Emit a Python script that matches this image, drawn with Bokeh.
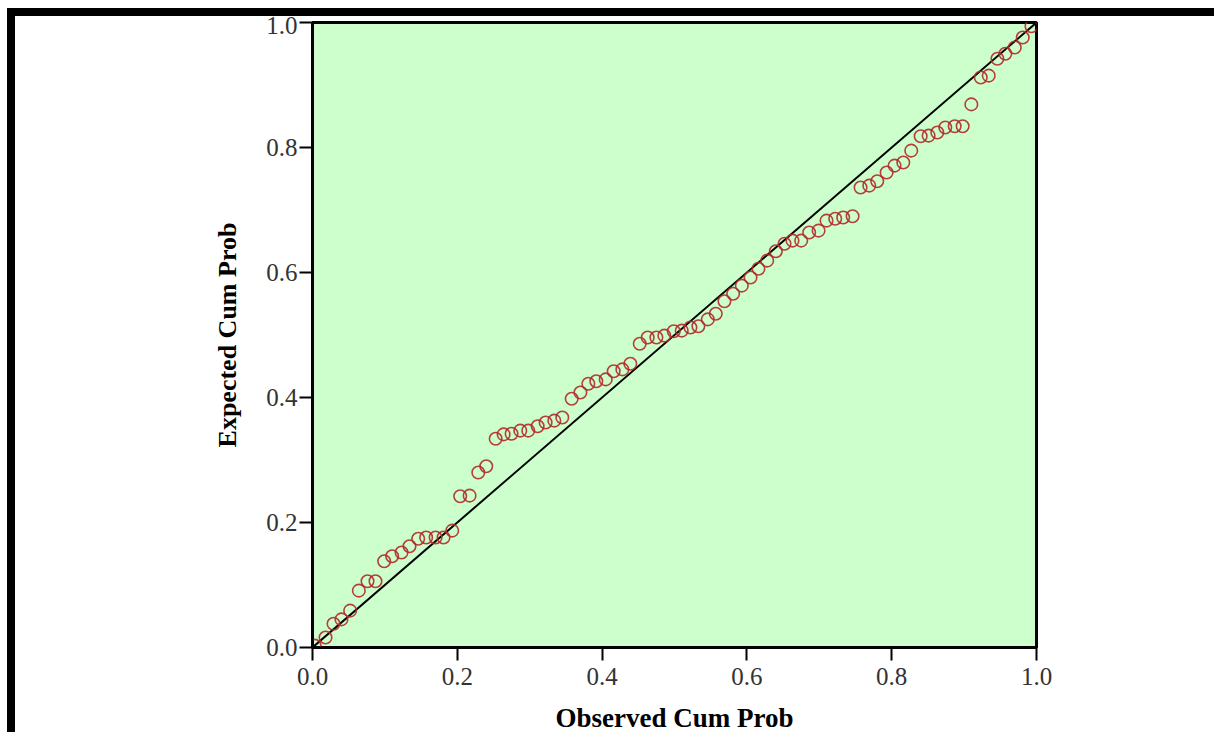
from bokeh.plotting import figure
from bokeh.models import Range1d, PrintfTickFormatter
from bokeh.embed import file_html
from bokeh.resources import INLINE

# Observed cumulative probability (x) and expected cumulative probability (y)
observed = [0.003, 0.018, 0.029, 0.040, 0.052, 0.064, 0.076, 0.087, 0.099, 0.110,
            0.123, 0.134, 0.146, 0.157, 0.170, 0.181, 0.193, 0.204, 0.217, 0.229,
            0.240, 0.253, 0.264, 0.275, 0.287, 0.298, 0.311, 0.322, 0.334, 0.345,
            0.358, 0.370, 0.381, 0.392, 0.405, 0.416, 0.428, 0.439, 0.452, 0.463,
            0.475, 0.486, 0.499, 0.510, 0.522, 0.533, 0.546, 0.557, 0.569, 0.581,
            0.593, 0.605, 0.616, 0.628, 0.640, 0.652, 0.663, 0.675, 0.686, 0.699,
            0.710, 0.722, 0.733, 0.746, 0.757, 0.769, 0.780, 0.793, 0.804, 0.816,
            0.827, 0.840, 0.851, 0.863, 0.874, 0.887, 0.898, 0.910, 0.923, 0.934,
            0.946, 0.957, 0.970, 0.981, 0.993]
expected = [0.003, 0.016, 0.038, 0.045, 0.059, 0.091, 0.106, 0.106, 0.138, 0.146,
            0.152, 0.162, 0.174, 0.176, 0.176, 0.176, 0.187, 0.242, 0.243, 0.280,
            0.290, 0.334, 0.341, 0.342, 0.347, 0.347, 0.354, 0.360, 0.363, 0.368,
            0.398, 0.408, 0.422, 0.426, 0.429, 0.442, 0.445, 0.454, 0.486, 0.496,
            0.496, 0.499, 0.506, 0.507, 0.512, 0.514, 0.525, 0.534, 0.554, 0.566,
            0.579, 0.592, 0.606, 0.619, 0.634, 0.646, 0.651, 0.651, 0.664, 0.667,
            0.683, 0.686, 0.688, 0.690, 0.736, 0.739, 0.746, 0.760, 0.771, 0.776,
            0.795, 0.818, 0.819, 0.824, 0.832, 0.834, 0.834, 0.869, 0.912, 0.915,
            0.942, 0.950, 0.960, 0.976, 0.994]
diag_x = [0.0, 1.0]
diag_y = [0.0, 1.0]
tick_values = [0.0, 0.2, 0.4, 0.6, 0.8, 1.0]
x_title = "Observed Cum Prob"
y_title = "Expected Cum Prob"

SERIF = "Liberation Serif"

# page frame: black bars at top (y 8-16) and left (x 7-15) drawn as CSS borders
p = figure(width=1207, height=724, output_backend="svg", toolbar_location=None,
           x_range=Range1d(0, 1), y_range=Range1d(0, 1),
           min_border_left=297, min_border_right=186,
           min_border_top=6, min_border_bottom=93,
           styles={"margin-left": "7px", "margin-top": "8px",
                   "border-left": "8px solid black",
                   "border-top": "8px solid black"})

p.background_fill_color = "#ccffcc"
p.border_fill_color = "white"
p.outline_line_color = "black"
p.outline_line_width = 3
p.grid.visible = False

p.line(diag_x, diag_y, line_color="black", line_width=2)
p.scatter(observed, expected, marker="circle", size=12.5, fill_color=None,
          line_color="#b22a2a", line_width=1.6, line_alpha=0.9)

for ax in (p.xaxis[0], p.yaxis[0]):
    ax.ticker = tick_values
    ax.formatter = PrintfTickFormatter(format="%.1f")
    ax.axis_line_color = "black"
    ax.axis_line_width = 2
    ax.major_tick_line_color = "black"
    ax.major_tick_line_width = 2
    ax.major_tick_out = 13
    ax.major_tick_in = 0
    ax.minor_tick_out = 0
    ax.minor_tick_in = 0
    ax.major_label_text_font = SERIF
    ax.major_label_text_font_size = "25px"
    ax.major_label_text_color = "#333333"
    ax.axis_label_text_font = SERIF
    ax.axis_label_text_font_style = "bold"
    ax.axis_label_text_color = "black"

p.xaxis.axis_label = x_title
p.yaxis.axis_label = y_title
p.xaxis.major_label_standoff = 7
p.yaxis.major_label_standoff = 2
p.xaxis.axis_label_text_font_size = "27px"
p.yaxis.axis_label_text_font_size = "26px"
p.xaxis.axis_label_standoff = 15
p.yaxis.axis_label_standoff = 21

html = file_html(p, INLINE)
html = html.replace("</head>",
                    "<style>html,body{margin:0;padding:0;overflow:hidden;}</style></head>", 1)
open("out.html", "w").write(html)
